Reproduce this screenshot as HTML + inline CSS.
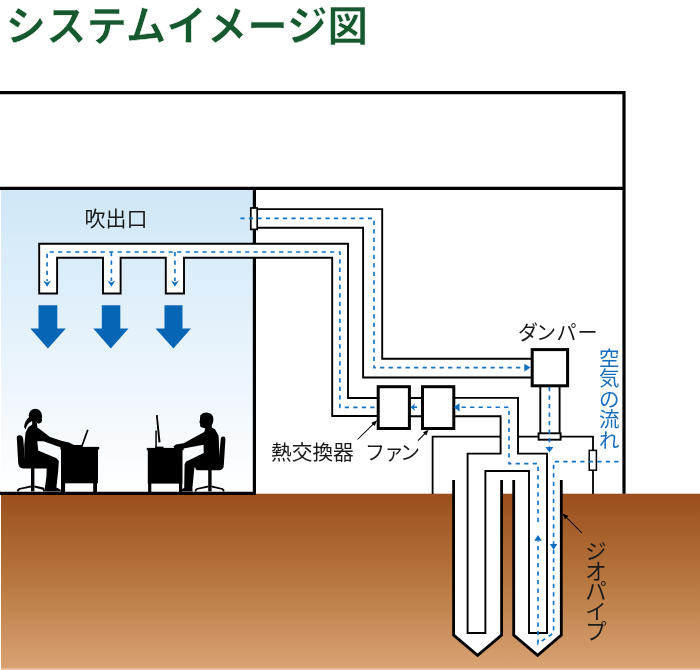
<!DOCTYPE html>
<html lang="ja">
<head>
<meta charset="utf-8">
<title>システムイメージ図</title>
<style>
html,body{margin:0;padding:0;background:#fff;}
body{width:700px;height:670px;overflow:hidden;position:relative;font-family:"Liberation Sans","Noto Sans CJK JP",sans-serif;}
svg{position:absolute;left:0;top:0;display:block;will-change:transform;}
svg text{font-family:"Liberation Sans","Noto Sans CJK JP",sans-serif;}
.ttl{font-weight:700;font-size:40.5px;fill:#17592f;stroke:#fff;stroke-width:.5px;}
.lbl{font-size:20px;fill:#1a1a1a;}
.blu{font-size:20px;fill:#186ebe;}
.d{fill:none;stroke:#000;stroke-width:1.9;stroke-linejoin:miter;}
.dw{fill:#fff;stroke:#000;stroke-width:1.9;stroke-linejoin:miter;}
.t{fill:none;stroke:#000;stroke-width:1.8;}
.w{fill:none;stroke:#000;stroke-width:3.2;}
.f{fill:none;stroke:#1272c4;stroke-width:1.65;stroke-dasharray:4.2 4.3;}
.ah{fill:#0f6fc4;}
.big{fill:#0666b5;}
</style>
</head>
<body>
<svg width="700" height="670" viewBox="0 0 700 670">
<defs>
<linearGradient id="room" x1="0" y1="0" x2="0" y2="1">
<stop offset="0" stop-color="#cfe7f7"/>
<stop offset="0.45" stop-color="#e4f1fb"/>
<stop offset="1" stop-color="#ffffff"/>
</linearGradient>
<linearGradient id="soil" x1="0" y1="0" x2="0" y2="1">
<stop offset="0" stop-color="#9a4f1d"/>
<stop offset="0.5" stop-color="#b8773f"/>
<stop offset="1" stop-color="#d9a374"/>
</linearGradient>
</defs>

<!-- title -->
<text class="ttl" x="5.6" y="0" transform="translate(0,40.7) scale(1,1.032)">システムイメージ図</text>

<!-- room background -->
<rect x="1" y="189" width="254" height="304" fill="url(#room)"/>

<!-- soil -->
<rect x="1" y="493.7" width="699" height="175.1" fill="url(#soil)"/>
<rect x="1" y="668.8" width="699" height="1.2" fill="#e9c9aa"/>

<!-- SECTION:building -->
<g class="w">
<path d="M0 92.7H624V493.7"/>
<path d="M0 188.4H624"/>
<path d="M254.4 188.4V493.4"/>
<path d="M0 493.4H255.8"/>
</g>
<!-- enclosure thin -->
<path class="t" d="M432.6 494V436.6H593V494"/>
<rect x="589.2" y="450.4" width="7.2" height="19.8" fill="#fff" stroke="#000" stroke-width="1.5"/>
<!-- geo pipes outer -->
<path d="M453.6 480V635L477.6 655.3L501.6 635V480" fill="#fff" stroke="#000" stroke-width="2.8" stroke-linejoin="miter"/>
<path d="M513.7 480V635L537.6 655.3L561.3 635V480" fill="#fff" stroke="#000" stroke-width="2.8" stroke-linejoin="miter"/>
<!-- SECTION:ducts -->
<!-- upper duct: vent to damper -->
<path d="M257 209.1H382.2V358.8H532V377.5H363.1V227.8H257Z" fill="#fff"/>
<path class="d" d="M257 209.1H382.2V358.8H532"/>
<path class="d" d="M257 227.8H363.1V377.5H532"/>
<rect x="250.8" y="208" width="6.4" height="21.4" fill="#fff" stroke="#000" stroke-width="1.7"/>
<!-- lower duct: outlets to heat exchanger -->
<path class="dw" d="M39.2 293.5V243.8H348V398H379V416H332.2V257.7H184V293.5H165.8V257.7H120.6V293.5H103V257.7H57.1V293.5Z"/>
<!-- hx - fan connector -->
<rect x="410" y="398" width="12" height="18.2" fill="#fff"/>
<path class="d" d="M410 398H422M410 416.2H422"/>
<!-- fan to manifold -->
<path class="dw" d="M453 397.9H518V453.6H547V633H529V471H485.4V633H467.6V453.6H500.6V416.2H453Z"/>
<!-- boxes -->
<rect x="378.2" y="386.7" width="31.2" height="41.8" fill="#fff" stroke="#000" stroke-width="3"/>
<rect x="422.5" y="386.7" width="31.3" height="41.8" fill="#fff" stroke="#000" stroke-width="3"/>
<!-- damper duct -->
<rect x="540.3" y="386" width="19.3" height="48" fill="#fff" stroke="#000" stroke-width="1.9"/>
<rect x="538.6" y="433.3" width="22" height="6.4" fill="#fff" stroke="#000" stroke-width="1.9"/>
<rect x="532.2" y="349.6" width="35.4" height="36.2" fill="#fff" stroke="#000" stroke-width="3"/>
<!-- SECTION:flow -->
<g class="f">
<path d="M240.4 218.3H374V367.6H525"/>
<path d="M374.5 407.3H339.9V252H47.1V281"/>
<path d="M111.4 252V281M174.9 252V281"/>
<path d="M417 407.2H413.6" style="stroke-dasharray:none"/>
<path d="M618.5 461.6H553.6V633L538 643.6V541M538 522V463.6H509V407.2H459.5"/>
<path d="M549.4 387V447"/>
</g>
<g class="ah">
<path d="M43.2 280.6L47.1 286.8L51 280.6L47.1 282.6Z"/>
<path d="M107.5 280.6L111.4 286.8L115.3 280.6L111.4 282.6Z"/>
<path d="M171 280.6L174.9 286.8L178.8 280.6L174.9 282.6Z"/>
<path d="M524.4 363.8L530.6 367.6L524.4 371.4Z"/>
<path d="M459.5 403L453.8 407.2L459.5 411.4Z"/>
<path d="M415 403.3L410.7 407.2L415 411.1L413.8 407.2Z"/>
<path d="M545.4 447L549.4 452.4L553.4 447Z"/>
<path d="M549.8 544L553.6 549.8L557.4 544Z"/>
<path d="M534.2 540.8L538 535L541.8 540.8Z"/>
</g>
<g class="big">
<path d="M38.5 305.2H57.3V328.6H65.8L47.9 348.4L30.3 328.6H38.5Z"/>
<path d="M101.8 305.2H120.3V328.6H128.5L110.8 348.4L93.3 328.6H101.8Z"/>
<path d="M164.5 305.2H182.5V328.6H191L173.4 348.4L155.5 328.6H164.5Z"/>
</g>
<!-- SECTION:people -->
<g fill="#000" stroke="none">
<!-- woman -->
<ellipse cx="35.3" cy="415.6" rx="6.6" ry="6.9"/>
<path d="M39 410.5L42.3 417L41.5 418.2L42.2 420L41.3 422.6L38.5 423.8L36 422Z"/>
<path d="M29.8 416.5Q25 420 24 427L25.8 429.6Q26.6 423.5 31.5 421.5Z"/>
<path d="M32.2 421.5L32.2 424.5L28.3 427.2L25.6 432.5L24.3 445L24.4 458L25.6 464.5L46.8 466.5L46.4 477L44.8 488.3L45.2 491.6H61L60.4 489.6L56.4 487.4L58.2 471L58.8 461L56.5 458.2L38.2 450.6L37.3 441.2L43.5 441.2L61 447.4L74 447V445L69 442.4L61.3 440.8L50 437L41.5 430.6L37.4 427.6L36.8 422.5Z"/>
<path d="M16.8 438Q16.6 435.2 19.6 435.3Q22.6 435.4 23.2 439L25.2 462L47 464.6V468.6H23Q18.6 468.2 18.2 463Z"/>
<rect x="31" y="468" width="3.4" height="23.4"/>
<path d="M31 485.4L18.6 488.2Q16.8 488.8 16.8 491.6H18.8Q19 489.8 20.6 489.6L31 487.6ZM34.4 485.4L43.5 487.6Q45 488.2 45 491.6H43.4Q43.2 489.6 42 489.4L34.4 487.6Z"/>
<!-- woman desk -->
<rect x="60.4" y="446.9" width="38.8" height="2.6"/>
<rect x="61" y="448" width="37" height="35.3"/>
<rect x="61" y="483" width="4.1" height="9.5"/>
<rect x="93.2" y="483" width="3.8" height="9.5"/>
<path d="M74 445H82V447H74Z"/>
<path d="M80.7 446.9L87 429.5L88.6 430.1L82.4 447.2Z"/>
<!-- man desk -->
<rect x="146.8" y="447.9" width="36.8" height="2.3"/>
<rect x="147.8" y="449" width="34.7" height="34.6"/>
<rect x="148.1" y="483" width="3.2" height="9.3"/>
<rect x="179" y="483" width="3.2" height="9.3"/>
<path d="M155.9 415.2L157.7 415L160.5 442.3L158.5 442.6Z"/>
<rect x="155.3" y="430.5" width="1.5" height="17.5"/>
<rect x="155.3" y="446.6" width="8.2" height="1.6"/>
<!-- man -->
<ellipse cx="206.6" cy="420.6" rx="6.7" ry="7.4"/>
<path d="M200.2 415.5Q203 411.8 208 412.8Q213 413.8 213.4 419L210 422L200.4 419Z"/>
<path d="M200.6 417L199.4 422.4L200.2 423.4L200 426.2L202 427.6L206 428.4L206 420Z"/>
<path d="M205 426L205 429.6L204.2 432L183.6 443.2L176 444.6L173.4 446.6L174.4 448L183.6 448.6L203.6 444.8L203.7 453L185.8 461.8L184.6 464.4L184.2 488L180.8 489.6L180.4 491.6H192.6L192.4 488L194.4 467.4L219.4 467L219.6 459.6L218.6 435.8L215 429.2L211.8 427.6L211.8 424Z"/>
<path d="M220.8 438.4Q221.2 436.4 223.4 436.6Q225.6 436.8 225.4 439.4L223.8 465.6Q223.6 470 219.4 470.2H197Q195.2 470 195.2 467.6L195.6 466L218.4 464.8Z"/>
<rect x="208.2" y="470" width="3.4" height="21.4"/>
<path d="M208.2 485.4L196.4 488.2Q194.6 488.8 194.6 491.6H196.4Q196.6 489.8 198 489.6L208.2 487.6ZM211.6 485.4L222.8 488.2Q224.6 488.8 224.6 491.6H222.8Q222.6 489.8 221.2 489.6L211.6 487.6Z"/>
</g>
<!-- SECTION:labels -->
<text class="lbl" x="84.6" y="226" style="font-size:21px">吹出口</text>
<text class="lbl" x="271" y="459.8" style="font-size:20.7px">熱交換器</text>
<text class="lbl" y="459.5"><tspan x="365">フ</tspan><tspan x="384">ァ</tspan><tspan x="400">ン</tspan></text>
<text class="lbl" y="340"><tspan x="518">ダ</tspan><tspan x="536">ン</tspan><tspan x="556.5">パ</tspan><tspan x="577.5">ー</tspan></text>
<text class="blu" text-anchor="middle" style="font-size:20.5px"><tspan x="609.2" y="365.9">空</tspan><tspan x="609.2" y="386.3">気</tspan><tspan x="609.2" y="406.8">の</tspan><tspan x="609.2" y="427.2">流</tspan><tspan x="609.2" y="447.7">れ</tspan></text>
<text class="lbl" text-anchor="middle" style="font-size:21.3px"><tspan x="596.0" y="559.0">ジ</tspan><tspan x="596.0" y="579.0">オ</tspan><tspan x="596.0" y="599.0">パ</tspan><tspan x="596.0" y="619.0">イ</tspan><tspan x="596.0" y="639.0">プ</tspan></text>
<g stroke="#000" stroke-width="1.05" fill="none">
<path d="M357.5 439.5L375 422.3"/>
<path d="M418 440.6L426.8 431.6"/>
<path d="M582 533L564.5 515.5"/>
</g>
<g fill="#000">
<path d="M377.2 420.2L371.3 422.8L374.6 426Z"/>
<path d="M428.6 429.8L423 432.2L426.2 435.4Z"/>
<path d="M562.6 513.6L565 519.4L568.4 516Z"/>
</g>
</svg>
</body>
</html>
